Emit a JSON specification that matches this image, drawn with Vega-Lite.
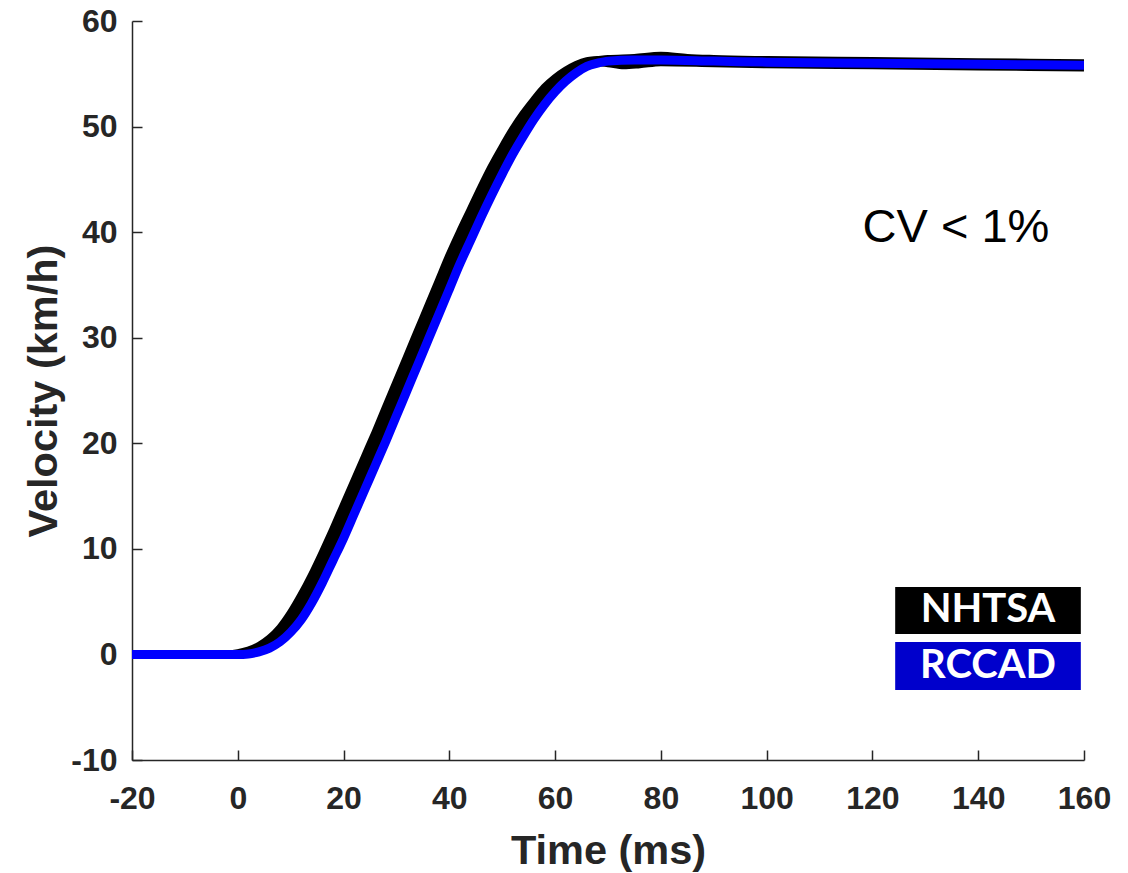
{
  "$schema": "https://vega.github.io/schema/vega-lite/v6.json",
  "width": 952,
  "height": 739,
  "autosize": "none",
  "padding": {"left": 132, "top": 21, "right": 44, "bottom": 113},
  "background": "white",
  "config": {"view": {"stroke": null}},
  "datasets": {
    "traces": [
      {"group": "NHTSA", "trace": "K1", "t": -20, "v": 0},
      {"group": "NHTSA", "trace": "K1", "t": -4, "v": 0},
      {"group": "NHTSA", "trace": "K1", "t": -2, "v": 0.02},
      {"group": "NHTSA", "trace": "K1", "t": 0, "v": 0.12},
      {"group": "NHTSA", "trace": "K1", "t": 2, "v": 0.37},
      {"group": "NHTSA", "trace": "K1", "t": 4, "v": 0.81},
      {"group": "NHTSA", "trace": "K1", "t": 6, "v": 1.5},
      {"group": "NHTSA", "trace": "K1", "t": 8, "v": 2.5},
      {"group": "NHTSA", "trace": "K1", "t": 10, "v": 3.9},
      {"group": "NHTSA", "trace": "K1", "t": 12, "v": 5.6},
      {"group": "NHTSA", "trace": "K1", "t": 14, "v": 7.5},
      {"group": "NHTSA", "trace": "K1", "t": 16, "v": 9.6},
      {"group": "NHTSA", "trace": "K1", "t": 18, "v": 11.8},
      {"group": "NHTSA", "trace": "K1", "t": 20, "v": 14.1},
      {"group": "NHTSA", "trace": "K1", "t": 22, "v": 16.4},
      {"group": "NHTSA", "trace": "K1", "t": 24, "v": 18.7},
      {"group": "NHTSA", "trace": "K1", "t": 26, "v": 21.0},
      {"group": "NHTSA", "trace": "K1", "t": 28, "v": 23.4},
      {"group": "NHTSA", "trace": "K1", "t": 30, "v": 25.8},
      {"group": "NHTSA", "trace": "K1", "t": 32, "v": 28.2},
      {"group": "NHTSA", "trace": "K1", "t": 34, "v": 30.6},
      {"group": "NHTSA", "trace": "K1", "t": 36, "v": 33.0},
      {"group": "NHTSA", "trace": "K1", "t": 38, "v": 35.4},
      {"group": "NHTSA", "trace": "K1", "t": 40, "v": 37.8},
      {"group": "NHTSA", "trace": "K1", "t": 42, "v": 40.0},
      {"group": "NHTSA", "trace": "K1", "t": 44, "v": 42.1},
      {"group": "NHTSA", "trace": "K1", "t": 46, "v": 44.2},
      {"group": "NHTSA", "trace": "K1", "t": 48, "v": 46.2},
      {"group": "NHTSA", "trace": "K1", "t": 50, "v": 48.0},
      {"group": "NHTSA", "trace": "K1", "t": 52, "v": 49.7},
      {"group": "NHTSA", "trace": "K1", "t": 54, "v": 51.2},
      {"group": "NHTSA", "trace": "K1", "t": 56, "v": 52.5},
      {"group": "NHTSA", "trace": "K1", "t": 58, "v": 53.7},
      {"group": "NHTSA", "trace": "K1", "t": 60, "v": 54.6},
      {"group": "NHTSA", "trace": "K1", "t": 62, "v": 55.3},
      {"group": "NHTSA", "trace": "K1", "t": 64, "v": 55.85},
      {"group": "NHTSA", "trace": "K1", "t": 66, "v": 56.2},
      {"group": "NHTSA", "trace": "K1", "t": 68, "v": 56.3},
      {"group": "NHTSA", "trace": "K1", "t": 70, "v": 56.4},
      {"group": "NHTSA", "trace": "K1", "t": 75, "v": 56.5},
      {"group": "NHTSA", "trace": "K1", "t": 80, "v": 56.7},
      {"group": "NHTSA", "trace": "K1", "t": 85, "v": 56.5},
      {"group": "NHTSA", "trace": "K1", "t": 90, "v": 56.4},
      {"group": "NHTSA", "trace": "K1", "t": 100, "v": 56.3},
      {"group": "NHTSA", "trace": "K1", "t": 120, "v": 56.2},
      {"group": "NHTSA", "trace": "K1", "t": 140, "v": 56.1},
      {"group": "NHTSA", "trace": "K1", "t": 160, "v": 56.0},

      {"group": "NHTSA", "trace": "K2", "t": -20, "v": 0},
      {"group": "NHTSA", "trace": "K2", "t": -2, "v": 0},
      {"group": "NHTSA", "trace": "K2", "t": 0, "v": 0.04},
      {"group": "NHTSA", "trace": "K2", "t": 2, "v": 0.2},
      {"group": "NHTSA", "trace": "K2", "t": 4, "v": 0.5},
      {"group": "NHTSA", "trace": "K2", "t": 6, "v": 1.05},
      {"group": "NHTSA", "trace": "K2", "t": 8, "v": 1.9},
      {"group": "NHTSA", "trace": "K2", "t": 10, "v": 3.0},
      {"group": "NHTSA", "trace": "K2", "t": 12, "v": 4.5},
      {"group": "NHTSA", "trace": "K2", "t": 14, "v": 6.3},
      {"group": "NHTSA", "trace": "K2", "t": 16, "v": 8.4},
      {"group": "NHTSA", "trace": "K2", "t": 18, "v": 10.5},
      {"group": "NHTSA", "trace": "K2", "t": 20, "v": 12.7},
      {"group": "NHTSA", "trace": "K2", "t": 22, "v": 15.0},
      {"group": "NHTSA", "trace": "K2", "t": 24, "v": 17.3},
      {"group": "NHTSA", "trace": "K2", "t": 26, "v": 19.6},
      {"group": "NHTSA", "trace": "K2", "t": 28, "v": 22.0},
      {"group": "NHTSA", "trace": "K2", "t": 30, "v": 24.4},
      {"group": "NHTSA", "trace": "K2", "t": 32, "v": 26.8},
      {"group": "NHTSA", "trace": "K2", "t": 34, "v": 29.2},
      {"group": "NHTSA", "trace": "K2", "t": 36, "v": 31.6},
      {"group": "NHTSA", "trace": "K2", "t": 38, "v": 34.0},
      {"group": "NHTSA", "trace": "K2", "t": 40, "v": 36.4},
      {"group": "NHTSA", "trace": "K2", "t": 42, "v": 38.65},
      {"group": "NHTSA", "trace": "K2", "t": 44, "v": 40.85},
      {"group": "NHTSA", "trace": "K2", "t": 46, "v": 43.0},
      {"group": "NHTSA", "trace": "K2", "t": 48, "v": 45.0},
      {"group": "NHTSA", "trace": "K2", "t": 50, "v": 46.9},
      {"group": "NHTSA", "trace": "K2", "t": 52, "v": 48.7},
      {"group": "NHTSA", "trace": "K2", "t": 54, "v": 50.3},
      {"group": "NHTSA", "trace": "K2", "t": 56, "v": 51.75},
      {"group": "NHTSA", "trace": "K2", "t": 58, "v": 53.0},
      {"group": "NHTSA", "trace": "K2", "t": 60, "v": 54.05},
      {"group": "NHTSA", "trace": "K2", "t": 62, "v": 54.9},
      {"group": "NHTSA", "trace": "K2", "t": 64, "v": 55.55},
      {"group": "NHTSA", "trace": "K2", "t": 66, "v": 56.0},
      {"group": "NHTSA", "trace": "K2", "t": 68, "v": 56.1},
      {"group": "NHTSA", "trace": "K2", "t": 70, "v": 56.0},
      {"group": "NHTSA", "trace": "K2", "t": 73, "v": 55.8},
      {"group": "NHTSA", "trace": "K2", "t": 76, "v": 55.9},
      {"group": "NHTSA", "trace": "K2", "t": 80, "v": 56.1},
      {"group": "NHTSA", "trace": "K2", "t": 90, "v": 56.0},
      {"group": "NHTSA", "trace": "K2", "t": 100, "v": 55.9},
      {"group": "NHTSA", "trace": "K2", "t": 120, "v": 55.8},
      {"group": "NHTSA", "trace": "K2", "t": 140, "v": 55.7},
      {"group": "NHTSA", "trace": "K2", "t": 160, "v": 55.6},

      {"group": "RCCAD", "trace": "R1", "t": -20, "v": 0},
      {"group": "RCCAD", "trace": "R1", "t": -4, "v": 0},
      {"group": "RCCAD", "trace": "R1", "t": 0, "v": 0},
      {"group": "RCCAD", "trace": "R1", "t": 2, "v": 0.05},
      {"group": "RCCAD", "trace": "R1", "t": 4, "v": 0.25},
      {"group": "RCCAD", "trace": "R1", "t": 6, "v": 0.6},
      {"group": "RCCAD", "trace": "R1", "t": 8, "v": 1.2},
      {"group": "RCCAD", "trace": "R1", "t": 10, "v": 2.1},
      {"group": "RCCAD", "trace": "R1", "t": 12, "v": 3.3},
      {"group": "RCCAD", "trace": "R1", "t": 14, "v": 4.9},
      {"group": "RCCAD", "trace": "R1", "t": 16, "v": 6.8},
      {"group": "RCCAD", "trace": "R1", "t": 18, "v": 8.9},
      {"group": "RCCAD", "trace": "R1", "t": 20, "v": 11.0},
      {"group": "RCCAD", "trace": "R1", "t": 22, "v": 13.3},
      {"group": "RCCAD", "trace": "R1", "t": 24, "v": 15.6},
      {"group": "RCCAD", "trace": "R1", "t": 26, "v": 17.9},
      {"group": "RCCAD", "trace": "R1", "t": 28, "v": 20.2},
      {"group": "RCCAD", "trace": "R1", "t": 30, "v": 22.6},
      {"group": "RCCAD", "trace": "R1", "t": 32, "v": 25.0},
      {"group": "RCCAD", "trace": "R1", "t": 34, "v": 27.4},
      {"group": "RCCAD", "trace": "R1", "t": 36, "v": 29.8},
      {"group": "RCCAD", "trace": "R1", "t": 38, "v": 32.2},
      {"group": "RCCAD", "trace": "R1", "t": 40, "v": 34.6},
      {"group": "RCCAD", "trace": "R1", "t": 42, "v": 37.0},
      {"group": "RCCAD", "trace": "R1", "t": 44, "v": 39.2},
      {"group": "RCCAD", "trace": "R1", "t": 46, "v": 41.4},
      {"group": "RCCAD", "trace": "R1", "t": 48, "v": 43.5},
      {"group": "RCCAD", "trace": "R1", "t": 50, "v": 45.5},
      {"group": "RCCAD", "trace": "R1", "t": 52, "v": 47.4},
      {"group": "RCCAD", "trace": "R1", "t": 54, "v": 49.1},
      {"group": "RCCAD", "trace": "R1", "t": 56, "v": 50.7},
      {"group": "RCCAD", "trace": "R1", "t": 58, "v": 52.1},
      {"group": "RCCAD", "trace": "R1", "t": 60, "v": 53.3},
      {"group": "RCCAD", "trace": "R1", "t": 62, "v": 54.3},
      {"group": "RCCAD", "trace": "R1", "t": 64, "v": 55.1},
      {"group": "RCCAD", "trace": "R1", "t": 66, "v": 55.7},
      {"group": "RCCAD", "trace": "R1", "t": 68, "v": 56.0},
      {"group": "RCCAD", "trace": "R1", "t": 70, "v": 56.2},
      {"group": "RCCAD", "trace": "R1", "t": 75, "v": 56.3},
      {"group": "RCCAD", "trace": "R1", "t": 80, "v": 56.3},
      {"group": "RCCAD", "trace": "R1", "t": 90, "v": 56.2},
      {"group": "RCCAD", "trace": "R1", "t": 100, "v": 56.1},
      {"group": "RCCAD", "trace": "R1", "t": 120, "v": 56.0},
      {"group": "RCCAD", "trace": "R1", "t": 140, "v": 55.9},
      {"group": "RCCAD", "trace": "R1", "t": 160, "v": 55.8}
    ]
  },
  "layer": [
    {
      "data": {"name": "traces"},
      "transform": [{"filter": "datum.group === 'NHTSA'"}],
      "mark": {"type": "line", "color": "#000000", "strokeWidth": 8, "interpolate": "monotone", "clip": true},
      "encoding": {
        "x": {
          "field": "t", "type": "quantitative",
          "scale": {"domain": [-20, 160], "nice": false, "zero": false},
          "axis": {
            "title": "Time (ms)", "values": [-20, 0, 20, 40, 60, 80, 100, 120, 140, 160],
            "labelExpr": "'' + datum.value",
            "grid": false, "domainColor": "#262626", "domainWidth": 1.5,
            "tickColor": "#262626", "tickWidth": 1.5, "tickSize": -10,
            "labelFont": "Liberation Sans", "labelFontSize": 32, "labelFontWeight": "bold", "labelColor": "#262626",
            "labelPadding": 33, "labelFlush": false, "labelOverlap": false,
            "titleFont": "Liberation Sans", "titleFontSize": 41.5, "titleFontWeight": "bold", "titleColor": "#262626",
            "titlePadding": 16
          }
        },
        "y": {
          "field": "v", "type": "quantitative",
          "scale": {"domain": [-10, 60], "nice": false, "zero": false},
          "axis": {
            "title": "Velocity (km/h)", "values": [-10, 0, 10, 20, 30, 40, 50, 60],
            "labelExpr": "'' + datum.value",
            "grid": false, "domainColor": "#262626", "domainWidth": 1.5,
            "tickColor": "#262626", "tickWidth": 1.5, "tickSize": -10,
            "labelFont": "Liberation Sans", "labelFontSize": 32, "labelFontWeight": "bold", "labelColor": "#262626",
            "labelPadding": 25, "labelFlush": false, "labelOverlap": false,
            "titleFont": "Liberation Sans", "titleFontSize": 41.5, "titleFontWeight": "bold", "titleColor": "#262626",
            "titlePadding": 5
          }
        },
        "detail": {"field": "trace"}
      }
    },
    {
      "data": {"name": "traces"},
      "transform": [{"filter": "datum.group === 'RCCAD'"}],
      "mark": {"type": "line", "color": "#0000FF", "strokeWidth": 9, "interpolate": "monotone", "clip": true},
      "encoding": {
        "x": {"field": "t", "type": "quantitative"},
        "y": {"field": "v", "type": "quantitative"},
        "detail": {"field": "trace"}
      }
    },
    {
      "data": {"values": [{"label": "NHTSA"}]},
      "mark": {"type": "rect", "color": "#000000"},
      "encoding": {
        "x": {"datum": 124.3, "type": "quantitative"},
        "x2": {"datum": 159.4},
        "y": {"datum": 6.39, "type": "quantitative"},
        "y2": {"datum": 1.94}
      }
    },
    {
      "data": {"values": [{"label": "RCCAD"}]},
      "mark": {"type": "rect", "color": "#0000CC"},
      "encoding": {
        "x": {"datum": 124.3, "type": "quantitative"},
        "x2": {"datum": 159.4},
        "y": {"datum": 1.18, "type": "quantitative"},
        "y2": {"datum": -3.37}
      }
    },
    {
      "data": {"values": [{"label": "NHTSA", "pos": 4.17}, {"label": "RCCAD", "pos": -1.1}]},
      "mark": {"type": "text", "color": "#FFFFFF", "font": "Lato", "fontWeight": "bold", "fontSize": 40, "align": "center", "baseline": "middle"},
      "encoding": {
        "x": {"datum": 141.85, "type": "quantitative"},
        "y": {"field": "pos", "type": "quantitative"},
        "text": {"field": "label"}
      }
    },
    {
      "data": {"values": [{"label": "CV < 1%"}]},
      "mark": {"type": "text", "color": "#000000", "font": "Liberation Sans", "fontSize": 47, "align": "center", "baseline": "middle"},
      "encoding": {
        "x": {"datum": 135.8, "type": "quantitative"},
        "y": {"datum": 40.4, "type": "quantitative"},
        "text": {"field": "label"}
      }
    }
  ]
}
